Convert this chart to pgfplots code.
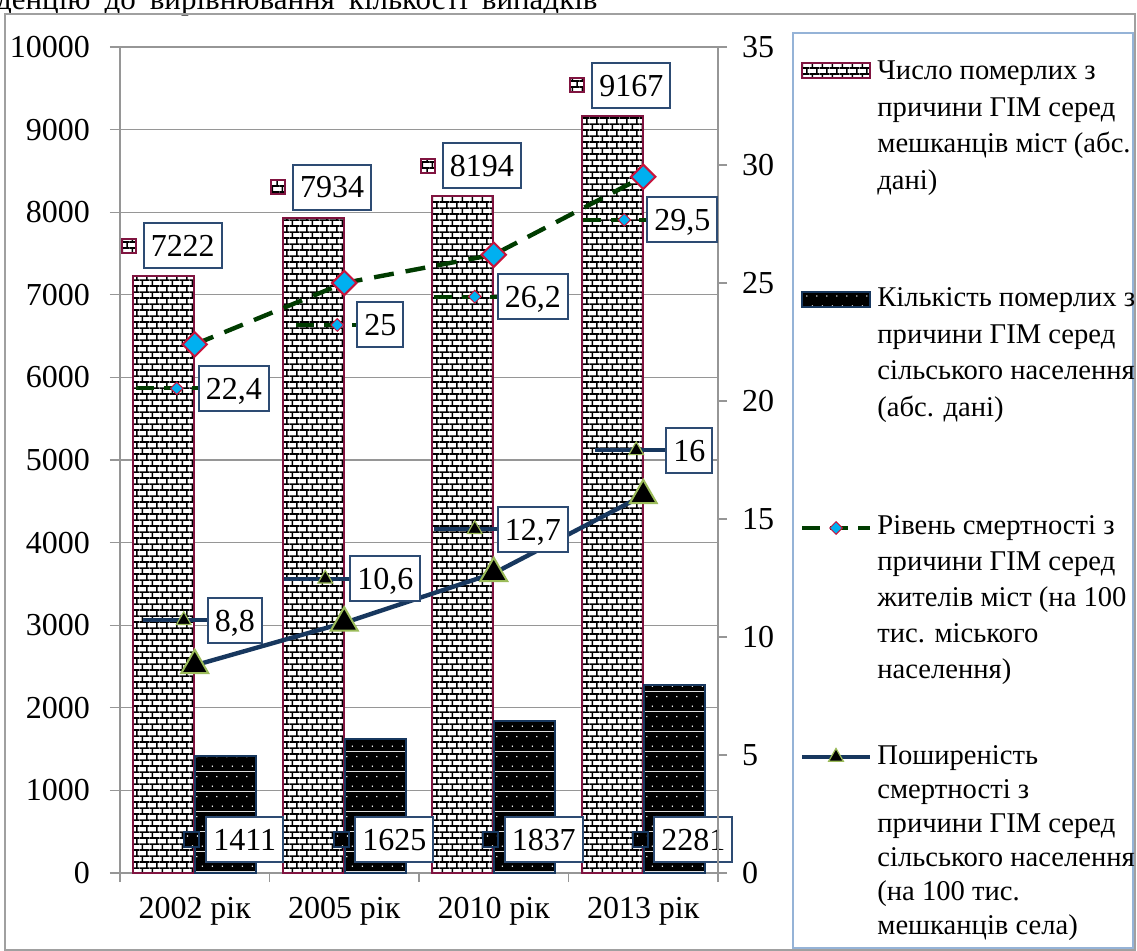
\documentclass[border=0pt]{standalone}
\usepackage{fontspec}
\setmainfont{Liberation Serif}
\usepackage{pgfplots}
\pgfplotsset{compat=1.18}
\usetikzlibrary{patterns.meta,shapes.geometric}

\definecolor{gridg}{RGB}{150,150,150}
\definecolor{maroonb}{RGB}{128,20,64}
\definecolor{navyb}{RGB}{23,55,94}
\definecolor{boxb}{RGB}{45,75,115}
\definecolor{dgreen}{RGB}{0,60,0}
\definecolor{cyanm}{RGB}{0,176,240}
\definecolor{redm}{RGB}{200,20,60}
\definecolor{ygm}{RGB}{155,187,89}
\definecolor{legb}{RGB}{149,179,215}
\definecolor{frameg}{RGB}{160,160,160}

\tikzdeclarepattern{
  name=mybricks, type=colored,
  bounding box={(0pt,0pt) and (5pt,6.2pt)},
  tile size={(5pt,6.2pt)},
  code={
    \fill[white] (0pt,0pt) rectangle (5pt,6.2pt);
    \draw[black, line width=0.85pt] (0pt,1.55pt) -- (5pt,1.55pt) (0pt,4.65pt) -- (5pt,4.65pt)
      (1.25pt,1.55pt) -- (1.25pt,4.65pt) (3.75pt,4.65pt) -- (3.75pt,6.2pt) (3.75pt,0pt) -- (3.75pt,1.55pt);
  }
}
\tikzdeclarepattern{
  name=mydots, type=colored,
  bounding box={(0pt,0pt) and (5pt,10pt)},
  tile size={(5pt,10pt)},
  code={
    \fill[black] (0pt,0pt) rectangle (5pt,10pt);
    \fill[white] (1.25pt,2.5pt) circle (0.42pt) (3.75pt,7.5pt) circle (0.42pt);
  }
}

\tikzset{
  lbl/.style={draw=boxb, line width=1pt, fill=white, font=\fontsize{16}{19}\selectfont,
    inner xsep=3.5pt, inner ysep=0pt, minimum height=22.5pt, text height=10.8pt, text depth=0pt},
  bkey/.style={draw=maroonb, line width=1pt, pattern=mybricks, minimum size=7pt, inner sep=0pt},
  dkey/.style={draw=navyb, line width=1pt, pattern=mydots, minimum size=7.5pt, inner sep=0pt},
  dmk/.style={diamond, aspect=1, fill=cyanm, draw=redm, line width=0.5pt, inner sep=0pt, minimum size=6.5pt},
  tmk/.style={regular polygon, regular polygon sides=3, fill=black, draw=ygm, line width=0.6pt, inner sep=0pt, minimum size=8.5pt},
  legt/.style={anchor=base west, inner sep=0pt, font=\fontsize{14.3}{17}\selectfont},
}

% urban bar label: index, value
\newcommand{\ubl}[2]{%
  \node[bkey] at ([xshift=-33pt,yshift=15.25pt]axis cs:#1,#2) {};
  \node[lbl] at ([xshift=-6pt,yshift=15.25pt]axis cs:#1,#2) {#2};}
% rural bar label: index, text
\newcommand{\rbl}[2]{%
  \node[dkey] at ([xshift=-1.5pt]axis cs:#1,400) {};
  \node[lbl] at ([xshift=25pt]axis cs:#1,400) {#2};}
% urban rate label: index, value, text, boxdx, dy, keydx
\newcommand{\ulbl}[6]{%
  \draw[dgreen, line width=2pt, dash pattern=on 9pt off 5pt]
    ([xshift={#6-20.5pt}, yshift=#5]axis cs:#1,#2) -- ([xshift={#6+20.5pt}, yshift=#5]axis cs:#1,#2);
  \node[dmk] at ([xshift=#6, yshift=#5]axis cs:#1,#2) {};
  \node[lbl] at ([xshift=#4, yshift=#5]axis cs:#1,#2) {#3};}
% rural rate label
\newcommand{\rlbl}[6]{%
  \draw[navyb, line width=2pt]
    ([xshift={#6-20.5pt}, yshift=#5]axis cs:#1,#2) -- ([xshift={#6+20.5pt}, yshift=#5]axis cs:#1,#2);
  \node[tmk] at ([xshift=#6, yshift=#5]axis cs:#1,#2) {};
  \node[lbl] at ([xshift=#4, yshift=#5]axis cs:#1,#2) {#3};}

\begin{document}
\begin{tikzpicture}
% top cut text
\node[anchor=base east, inner sep=0pt, font=\fontsize{15.5}{18}\selectfont] at (299pt,-5pt)
  {тенденцію\hspace{7pt}до\hspace{7pt}вирівнювання\hspace{7pt}кількості\hspace{7pt}випадків};
% outer frame
\draw[frameg, line width=0.7pt] (2.5pt,-7pt) rectangle (567.5pt,-475pt);

\begin{axis}[
  at={(60pt,-436.5pt)}, anchor=south west, scale only axis, width=299pt, height=413pt,
  xmin=-0.5, xmax=3.5, ymin=0, ymax=10000, clip=false,
  axis x line*=bottom, axis y line*=left, axis line style={gridg, line width=0.6pt, -},
  xtick={0,1,2,3}, xticklabels={2002 рік,2005 рік,2010 рік,2013 рік},
  major x tick style={draw=none},
  minor xtick={-0.5,0.5,1.5,2.5,3.5}, minor tick length=4.5pt,
  ytick={0,1000,...,10000}, ymajorgrids, grid style={gridg, line width=0.6pt},
  scaled y ticks=false,
  tick align=outside, major tick length=5pt, tick style={gridg, line width=0.6pt},
  ticklabel style={font=\fontsize{16}{19}\selectfont, text=black},
  yticklabel style={xshift=-6.5pt},
  xticklabel style={yshift=-3.5pt},
  /pgf/number format/1000 sep={}, /pgf/number format/assume math mode=true,
]
\addplot[ybar, bar width=30.5pt, bar shift=-15.5pt, draw=maroonb, line width=1pt, pattern=mybricks]
  coordinates {(0,7222)(1,7934)(2,8194)(3,9167)};
\addplot[ybar, bar width=30.5pt, bar shift=15.5pt, draw=navyb, line width=1pt, pattern=mydots]
  coordinates {(0,1411)(1,1625)(2,1837)(3,2281)};
\ubl{0}{7222}\ubl{1}{7934}\ubl{2}{8194}\ubl{3}{9167}
\rbl{0}{1411}\rbl{1}{1625}\rbl{2}{1837}\rbl{3}{2281}
\end{axis}

\begin{axis}[
  at={(60pt,-436.5pt)}, anchor=south west, scale only axis, width=299pt, height=413pt,
  xmin=-0.5, xmax=3.5, ymin=0, ymax=35, clip=false,
  axis x line=none, axis y line*=right, axis line style={gridg, line width=0.6pt, -},
  ytick={0,5,...,35},
  tick align=outside, major tick length=4.5pt, tick style={gridg, line width=0.6pt},
  ticklabel style={font=\fontsize{16}{19}\selectfont, text=black},
  yticklabel style={xshift=4pt},
  /pgf/number format/assume math mode=true,
]
\addplot[dgreen, line width=2.2pt, dash pattern=on 10pt off 6pt, mark=square*, mark size=4.3pt,
  mark options={solid, rotate=45, fill=cyanm, draw=redm, line width=1pt}]
  coordinates {(0,22.4)(1,25)(2,26.2)(3,29.5)};
\addplot[navyb, line width=2.2pt, mark=triangle*, mark size=7.8pt,
  mark options={solid, fill=black, draw=ygm, line width=1pt}]
  coordinates {(0,8.8)(1,10.6)(2,12.7)(3,16)};
\ulbl{0}{22.4}{22,4}{19.5pt}{-22pt}{-9pt}
\ulbl{1}{25}{25}{18pt}{-21pt}{-3.5pt}
\ulbl{2}{26.2}{26,2}{19.5pt}{-21pt}{-9.5pt}
\ulbl{3}{29.5}{29,5}{19.5pt}{-21.5pt}{-9.5pt}
\rlbl{0}{8.8}{8,8}{20pt}{22.5pt}{-5.5pt}
\rlbl{1}{10.6}{10,6}{20.5pt}{22pt}{-9.5pt}
\rlbl{2}{12.7}{12,7}{19.5pt}{22pt}{-9.5pt}
\rlbl{3}{16}{16}{23pt}{22.5pt}{-3.5pt}
\end{axis}

% legend
\draw[legb, line width=0.8pt] (396.5pt,-16.5pt) rectangle (566.5pt,-474pt);
\draw[draw=maroonb, line width=1pt, pattern=mybricks] (401pt,-31.5pt) rectangle (435pt,-39pt);
\draw[draw=navyb, line width=1pt, pattern=mydots] (401pt,-146pt) rectangle (435pt,-153.5pt);
\draw[dgreen, line width=2pt, dash pattern=on 9pt off 5pt] (401pt,-264pt) -- (435pt,-264pt);
\node[dmk] at (418pt,-264pt) {};
\draw[navyb, line width=2pt] (401pt,-378.5pt) -- (435pt,-378.5pt);
\node[tmk] at (418pt,-378.5pt) {};

\node[legt] at (438.5pt,-40pt) {Число померлих з};
\node[legt] at (438.5pt,-58.25pt) {причини ГІМ серед};
\node[legt] at (438.5pt,-76.5pt) {мешканців міст (абс.};
\node[legt] at (438.5pt,-94.75pt) {дані)};

\node[legt] at (438.5pt,-153.5pt) {Кількість померлих з};
\node[legt] at (438.5pt,-171.75pt) {причини ГІМ серед};
\node[legt] at (438.5pt,-190pt) {сільського населення};
\node[legt] at (438.5pt,-208.25pt) {(абс. дані)};

\node[legt] at (438.5pt,-267.5pt) {Рівень смертності з};
\node[legt] at (438.5pt,-285.5pt) {причини ГІМ серед};
\node[legt] at (438.5pt,-303.5pt) {жителів міст (на 100};
\node[legt] at (438.5pt,-321.5pt) {тис. міського};
\node[legt] at (438.5pt,-339.5pt) {населення)};

\node[legt] at (438.5pt,-382.5pt) {Поширеність};
\node[legt] at (438.5pt,-399.5pt) {смертності з};
\node[legt] at (438.5pt,-416.5pt) {причини ГІМ серед};
\node[legt] at (438.5pt,-433.5pt) {сільського населення};
\node[legt] at (438.5pt,-450.5pt) {(на 100 тис.};
\node[legt] at (438.5pt,-467.5pt) {мешканців села)};

\pgfresetboundingbox
\useasboundingbox (0pt,0pt) rectangle (568.5pt,-475.5pt);
\end{tikzpicture}
\end{document}
